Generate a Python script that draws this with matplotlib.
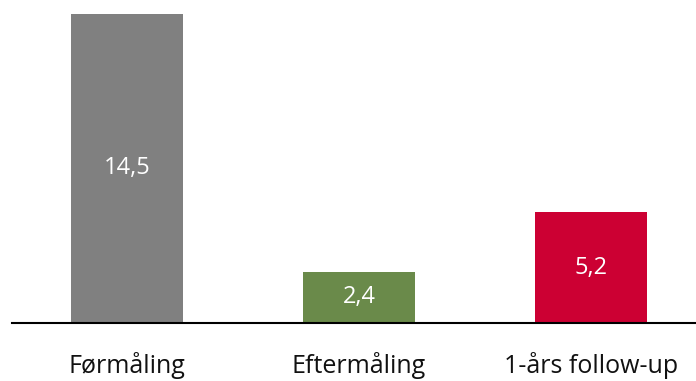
import matplotlib
matplotlib.use("Agg")
import matplotlib.pyplot as plt
from matplotlib.transforms import blended_transform_factory

categories = ["Førmåling", "Eftermåling", "1-års follow-up"]
values = [14.5, 2.4, 5.2]
value_labels = ["14,5", "2,4", "5,2"]
colors = ["#808080", "#6A8A4A", "#CC0033"]

plt.rcParams["font.family"] = ["Open Sans", "DejaVu Sans"]

fig = plt.figure(figsize=(6.96, 3.81), dpi=100)
ax = fig.add_axes([12 / 696, 58 / 381, 684 / 696, 323 / 381])

x = list(range(len(categories)))
bars = ax.bar(x, values, width=112 / 232, color=colors, zorder=2)

for bar, v, lab in zip(bars, values, value_labels):
    ax.text(bar.get_x() + bar.get_width() / 2, v / 2, lab,
            ha="center", va="center", color="white", fontsize=17)

ax.set_xlim(-115 / 232, 2 + 105 / 232)
ax.set_ylim(0, 14.5 * 323 / 309)

ax.axhline(0, color="black", linewidth=1.5, zorder=3, clip_on=False)
for s in ax.spines.values():
    s.set_visible(False)
ax.set_yticks([])
ax.set_xticks([])

# category names sit on a common baseline below the axis line
trans = blended_transform_factory(ax.transData, ax.transAxes)
for xi, name in zip(x, categories):
    ax.text(xi, -50 / 323, name, transform=trans, ha="center",
            va="baseline", fontsize=18, color="#111111", clip_on=False)

fig.savefig("out.png", dpi=100)
